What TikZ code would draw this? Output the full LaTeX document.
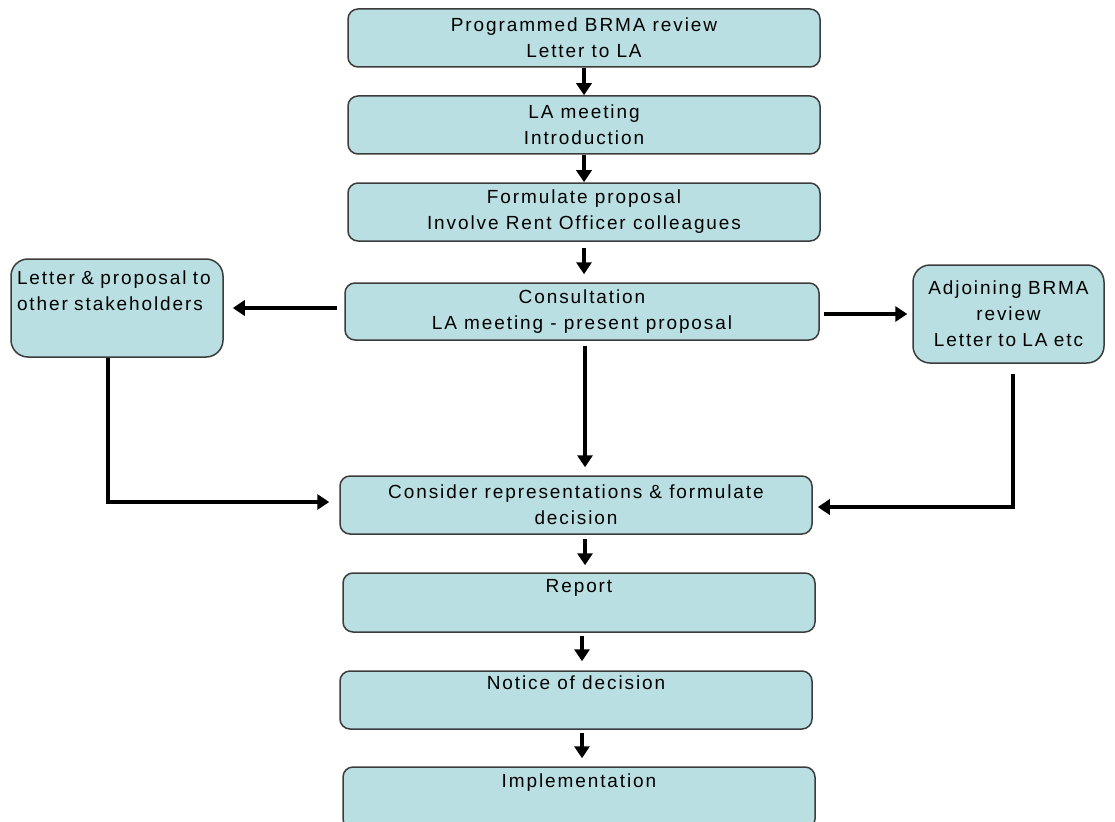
\documentclass[tikz,border=0pt]{standalone}
\usepackage{fontspec}
\setmainfont{Liberation Sans}[LetterSpace=10]
\usetikzlibrary{arrows.meta,calc}
\definecolor{boxfill}{RGB}{186,223,226}
\definecolor{boxline}{RGB}{60,60,60}
\begin{document}
\begin{tikzpicture}[x=1pt,y=-1pt,
  every node/.style={font=\fontsize{19}{26}\selectfont},
  mainbox/.style={draw=boxline,line width=1.5pt,fill=boxfill,rounded corners=10pt,
    minimum width=472pt,minimum height=58pt,align=center,inner sep=0pt},
  sidebox/.style={draw=boxline,line width=1.5pt,fill=boxfill,rounded corners=17pt,
    minimum height=98pt,inner sep=0pt},
  arr/.style={line width=3.8pt,-{Triangle[width=15pt,length=12pt]}}]
\useasboundingbox (0,0) rectangle (1115,821);
\clip (0,0) rectangle (1115,821);
\node[mainbox] (b1) at (584,38) {Programmed BRMA review\\Letter to LA};
\node[mainbox] (b2) at (584,125) {LA meeting\\Introduction};
\node[mainbox] (b3) at (584,212) {Formulate proposal\\Involve Rent Officer colleagues};
\node[mainbox,minimum width=474pt,minimum height=57pt] (b4) at (582,311.5) {Consultation\\LA meeting - present proposal};
\node[sidebox,minimum width=212pt,text width=200pt,align=left] (bl) at (117,308) {Letter \& proposal to\\other stakeholders\\ \strut};
\node[sidebox,minimum width=191pt,text width=185pt,align=center] (br) at (1008.5,314) {Adjoining BRMA\\review\\Letter to LA etc};
\node[mainbox] (b5) at (576,505) {Consider representations \& formulate\\decision};
\node[mainbox,minimum height=59pt] (b6) at (579,602.5) {Report\\ \strut};
\node[mainbox] (b7) at (576,700) {Notice of decision\\ \strut};
\node[mainbox,minimum height=62pt] (b8) at (579,798) {Implementation\\ \strut};
% connectors
\draw[arr] (b1.south) -- (b1.south |- b2.north);
\draw[arr] (b2.south) -- (b2.south |- b3.north);
\draw[arr,shorten <=6pt,shorten >=8pt] (b3.south) -- (b3.south |- b4.north);
\draw[arr,shorten <=7pt,shorten >=9pt] (b4.west |- bl.east) -- (bl.east);
\draw[arr,shorten <=4pt,shorten >=5pt] (b4.east |- br.west) -- (br.west);
\draw[arr,shorten <=5pt,shorten >=8pt] ([xshift=3pt]b4.south) -- ([xshift=3pt]b4.south |- b5.north);
\coordinate (lstart) at ([xshift=-9pt]bl.south);
\draw[arr,shorten >=10pt] (lstart) |- ([yshift=3pt]b5.west);
\coordinate (rstart) at ([xshift=4.5pt,yshift=-10pt]br.south);
\draw[arr,shorten >=5pt] (rstart) |- ([yshift=-2pt]b5.east);
\draw[arr,shorten <=4pt,shorten >=7pt] ([xshift=9pt]b5.south) -- ([xshift=9pt]b5.south |- b6.north);
\draw[arr,shorten <=3pt,shorten >=9pt] ([xshift=3pt]b6.south) -- ([xshift=3pt]b6.south |- b7.north);
\draw[arr,shorten <=3pt,shorten >=8pt] ([xshift=6pt]b7.south) -- ([xshift=6pt]b7.south |- b8.north);
\end{tikzpicture}
\end{document}
